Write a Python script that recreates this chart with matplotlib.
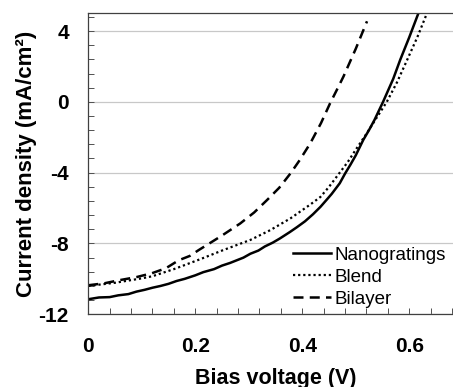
import matplotlib
matplotlib.use("Agg")
import matplotlib.pyplot as plt
from matplotlib.ticker import MultipleLocator

plt.rcParams['font.family'] = ['Liberation Sans', 'DejaVu Sans']
plt.rcParams['axes.unicode_minus'] = False

# J-V curves (V in volts, J in mA/cm2)
v_nano = [0.0, 0.02, 0.04, 0.056, 0.075, 0.09, 0.105, 0.12, 0.135, 0.15, 0.165, 0.18,
          0.2, 0.215, 0.235, 0.25, 0.265, 0.28, 0.29, 0.303, 0.318, 0.33, 0.345, 0.358,
          0.377, 0.39, 0.405, 0.42, 0.434, 0.445, 0.455, 0.47, 0.48, 0.49, 0.50, 0.514,
          0.525, 0.535, 0.551, 0.57, 0.583, 0.60, 0.617]
j_nano = [-11.15, -11.05, -11.03, -10.93, -10.86, -10.72, -10.62, -10.5, -10.4, -10.28, -10.12, -10.0,
          -9.8, -9.62, -9.45, -9.25, -9.1, -8.92, -8.8, -8.58, -8.4, -8.17, -7.95, -7.72,
          -7.35, -7.08, -6.75, -6.35, -5.93, -5.55, -5.2, -4.6, -4.05, -3.55, -3.02, -2.15,
          -1.58, -1.02, 0.0, 1.3, 2.37, 3.65, 5.0]

v_blend = [0.0, 0.05, 0.1, 0.12, 0.16, 0.21, 0.25, 0.303, 0.34, 0.378, 0.396, 0.415,
           0.434, 0.45, 0.47, 0.485, 0.50, 0.52, 0.54, 0.558, 0.577, 0.595, 0.615, 0.633]
j_blend = [-10.4, -10.22, -9.97, -9.85, -9.45, -8.88, -8.4, -7.8, -7.25, -6.58, -6.2, -5.8,
           -5.37, -4.8, -4.0, -3.4, -2.7, -1.8, -0.85, 0.0, 1.1, 2.3, 3.65, 5.0]

v_bilayer = [0.0, 0.03, 0.057, 0.09, 0.119, 0.145, 0.169, 0.19, 0.206, 0.222, 0.25, 0.284,
             0.31, 0.334, 0.357, 0.378, 0.395, 0.415, 0.435, 0.452, 0.465, 0.477, 0.50, 0.521]
j_bilayer = [-10.36, -10.25, -10.08, -9.9, -9.68, -9.4, -8.95, -8.7, -8.38, -8.08, -7.55, -6.87,
             -6.25, -5.55, -4.85, -4.04, -3.3, -2.34, -1.2, -0.08, 0.7, 1.43, 3.0, 4.55]

labels = ['Nanogratings', 'Blend', 'Bilayer']

fig = plt.figure(figsize=(4.53, 3.87), dpi=100)
ax = fig.add_axes([0.1949, 0.1879, 0.8267, 0.7777])

ax.plot(v_nano, j_nano, color='black', lw=1.8, label=labels[0])
ax.plot(v_blend, j_blend, color='black', lw=1.6, linestyle=(0, (1, 1.3)), label=labels[1])
ax.plot(v_bilayer, j_bilayer, color='black', lw=1.8, linestyle=(0, (4, 2.5)), label=labels[2])

ax.set_xlim(0, 0.7)
ax.set_ylim(-12, 5)
ax.xaxis.set_minor_locator(MultipleLocator(0.04))
ax.yaxis.set_minor_locator(MultipleLocator(0.8))
ax.set_xticks([0, 0.2, 0.4, 0.6])
ax.set_xticklabels(['0', '0.2', '0.4', '0.6'])
ax.set_yticks([-12, -8, -4, 0, 4])

ax.grid(axis='y', which='major', color='#c8c8c8', lw=0.9)
ax.set_axisbelow(True)

for s in ['top', 'left', 'bottom']:
    ax.spines[s].set_color('#404040')
    ax.spines[s].set_linewidth(0.9)
ax.spines['right'].set_visible(False)

ax.tick_params(axis='both', which='both', direction='in', length=4, width=0.7,
               color='#505050', labelsize=15)
ax.tick_params(axis='y', which='both', pad=14)
ax.tick_params(axis='x', which='both', pad=16)
for t in ax.get_xticklabels() + ax.get_yticklabels():
    t.set_fontweight('bold')

ax.set_xlabel('Bias voltage (V)', fontsize=15.5, fontweight='bold', labelpad=9)
ax.set_ylabel('Current density (mA/cm²)', fontsize=16, fontweight='bold', labelpad=1)

ax.legend(loc='lower right', bbox_to_anchor=(0.9845, 0.205), bbox_transform=fig.transFigure,
          frameon=False, fontsize=13.5, handlelength=2.0, handletextpad=0.2,
          labelspacing=0.25, borderpad=0, borderaxespad=0)

fig.savefig('out.png', dpi=100)
